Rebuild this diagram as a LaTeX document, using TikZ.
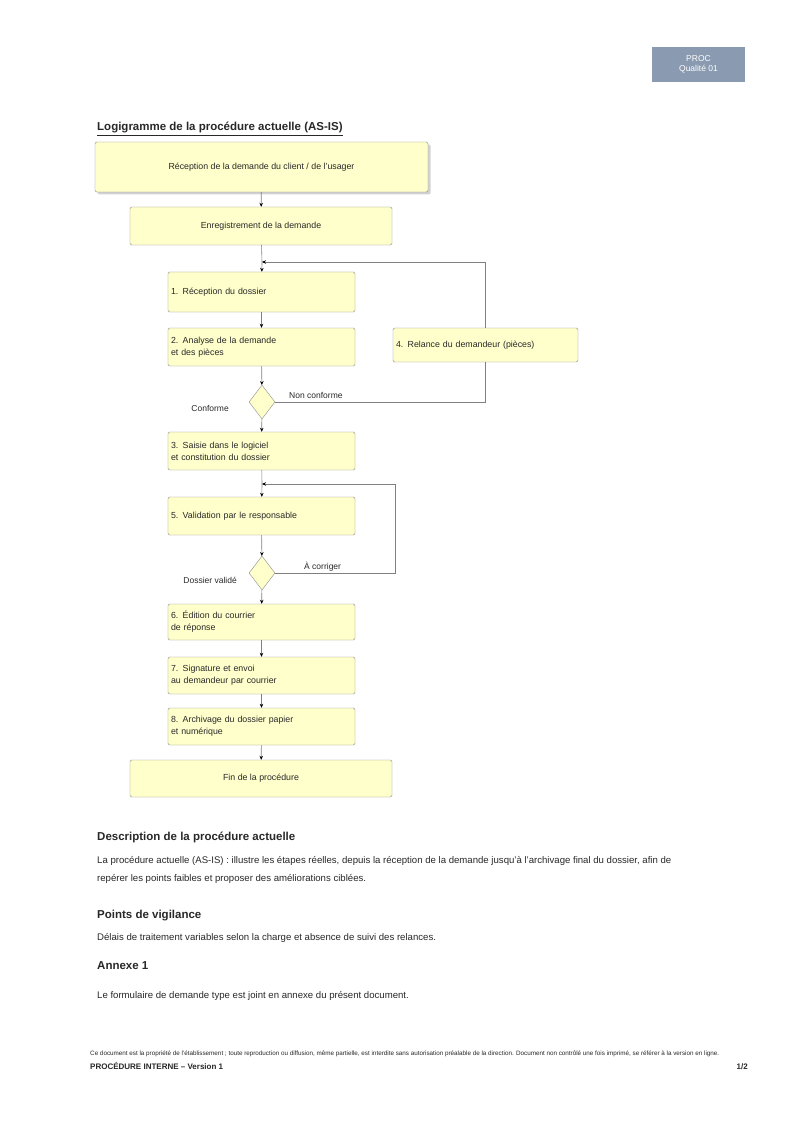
\documentclass[tikz,border=0pt]{standalone}
\usepackage{fontspec}
\setmainfont{Liberation Sans}
\usetikzlibrary{shapes.geometric,arrows.meta,shadows}
\definecolor{boxfill}{RGB}{255,255,204}
\definecolor{boxline}{RGB}{140,140,140}
\definecolor{badge}{RGB}{138,154,176}
\definecolor{txt}{RGB}{40,40,40}
\begin{document}
\begin{tikzpicture}[x=1pt,y=-1pt,
  box/.style={draw=boxline, fill=boxfill, rounded corners=1.5pt, inner sep=0pt, text=txt,
              font=\fontsize{8.8}{12}\selectfont},
  lbox/.style={box, minimum width=187, text width=181, align=left},
  cbox/.style={box, align=center},
  dec/.style={diamond, draw=boxline, fill=boxfill, inner sep=0pt, minimum width=26, minimum height=34},
  conn/.style={draw=gray, line width=0.6pt, -{Stealth[length=4pt,width=3.5pt,black]}},
  plain/.style={draw=gray, line width=0.6pt},
  lab/.style={font=\fontsize{8.5}{10}\selectfont, text=txt, inner sep=1pt},
  head/.style={font=\bfseries\fontsize{11.5}{13}\selectfont, anchor=base west, inner sep=0pt, text=txt},
  body/.style={font=\fontsize{9.6}{11}\selectfont, anchor=base west, inner sep=0pt, text=txt}]
\useasboundingbox[fill=white] (0,0) rectangle (800,1131);

% badge
\node[fill=badge, minimum width=93, minimum height=35, text=white, align=center,
      font=\fontsize{8.5}{10}\selectfont, inner sep=0pt] (badge) at (698.5,64.5) {PROC\\Qualité 01};

% title
\node[head] (title) at (97,131) {\underline{Logigramme de la procédure actuelle (AS-IS)}};

% nodes
\node[cbox, minimum width=333, minimum height=50,
      drop shadow={shadow xshift=2.5pt, shadow yshift=-2.5pt, fill=gray!70}] (b1) at (261.5,167)
      {Réception de la demande du client / de l'usager};
\node[cbox, minimum width=262, minimum height=38] (b2) at (261,226) {Enregistrement de la demande};
\node[lbox, minimum height=40] (b3) at (261.5,292) {1. Réception du dossier};
\node[lbox, minimum height=38] (b4) at (261.5,347) {2. Analyse de la demande\\et des pièces};
\node[box, minimum width=185, text width=179, align=left, minimum height=34] (b5) at (485.5,345)
      {4. Relance du demandeur (pièces)};
\node[dec] (d1) at (262,402) {};
\node[lbox, minimum height=38] (b6) at (261.5,451) {3. Saisie dans le logiciel\\et constitution du dossier};
\node[lbox, minimum height=38] (b7) at (261.5,516) {5. Validation par le responsable};
\node[dec] (d2) at (262,573) {};
\node[lbox, minimum height=36] (b8) at (261.5,622) {6. Édition du courrier\\de réponse};
\node[lbox, minimum height=37] (b9) at (261.5,675.5) {7. Signature et envoi\\au demandeur par courrier};
\node[lbox, minimum height=37] (b10) at (261.5,726.5) {8. Archivage du dossier papier\\et numérique};
\node[cbox, minimum width=262, minimum height=37] (b11) at (261,778.5) {Fin de la procédure};

\coordinate (m1) at (262,262);
\coordinate (m2) at (262,484);
\coordinate (r2) at (395,484);

% connectors
\draw[conn] (b1) -- (b2);
\draw[plain] (b2) -- (m1);
\draw[conn] (m1) -- (b3);
\draw[conn] (b3) -- (b4);
\draw[conn] (b4) -- (d1);
\draw[conn] (d1) -- (b6);
\draw[plain] (d1.east) -- (d1.east -| b5.south) -- (b5.south);
\draw[conn] (b5.north) |- (m1);
\draw[plain] (b6) -- (m2);
\draw[conn] (m2) -- (b7);
\draw[conn] (b7) -- (d2);
\draw[plain] (d2.east) -- (d2.east -| r2) -- (r2);
\draw[conn] (r2) -- (m2);
\draw[conn] (d2) -- (b8);
\draw[conn] (b8) -- (b9);
\draw[conn] (b9) -- (b10);
\draw[conn] (b10) -- (b11);

% labels
\node[lab, anchor=south west] (l1) at (288,400) {Non conforme};
\node[lab, anchor=east] (l2) at (230,408) {Conforme};
\node[lab, anchor=south west] (l3) at (303,572) {À corriger};
\node[lab, anchor=east] (l4) at (238,580) {Dossier validé};

% text below
\node[head] (h1) at (97,840) {Description de la procédure actuelle};
\node[body] (p1) at (97,863) {La procédure actuelle (AS-IS) : illustre les étapes réelles, depuis la réception de la demande jusqu'à l'archivage final du dossier, afin de};
\node[body] (p2) at (97,881) {repérer les points faibles et proposer des améliorations ciblées.};
\node[head] (h2) at (97,918) {Points de vigilance};
\node[body] (p3) at (97,940) {Délais de traitement variables selon la charge et absence de suivi des relances.};
\node[head] (h3) at (97,969) {Annexe 1};
\node[body] (p4) at (97,998) {Le formulaire de demande type est joint en annexe du présent document.};

% footer
\node[anchor=base west, inner sep=0pt, text=txt, font=\fontsize{6.3}{7}\selectfont] (f1) at (90,1055)
  {Ce document est la propriété de l'établissement ; toute reproduction ou diffusion, même partielle, est interdite sans autorisation préalable de la direction. Document non contrôlé une fois imprimé, se référer à la version en ligne.};
\node[anchor=base west, inner sep=0pt, text=txt, font=\bfseries\fontsize{8}{9}\selectfont] (f2) at (90,1069) {PROCÉDURE INTERNE – Version 1};
\node[anchor=base east, inner sep=0pt, text=txt, font=\bfseries\fontsize{8}{9}\selectfont] (f3) at (748,1069) {1/2};
\end{tikzpicture}
\end{document}
